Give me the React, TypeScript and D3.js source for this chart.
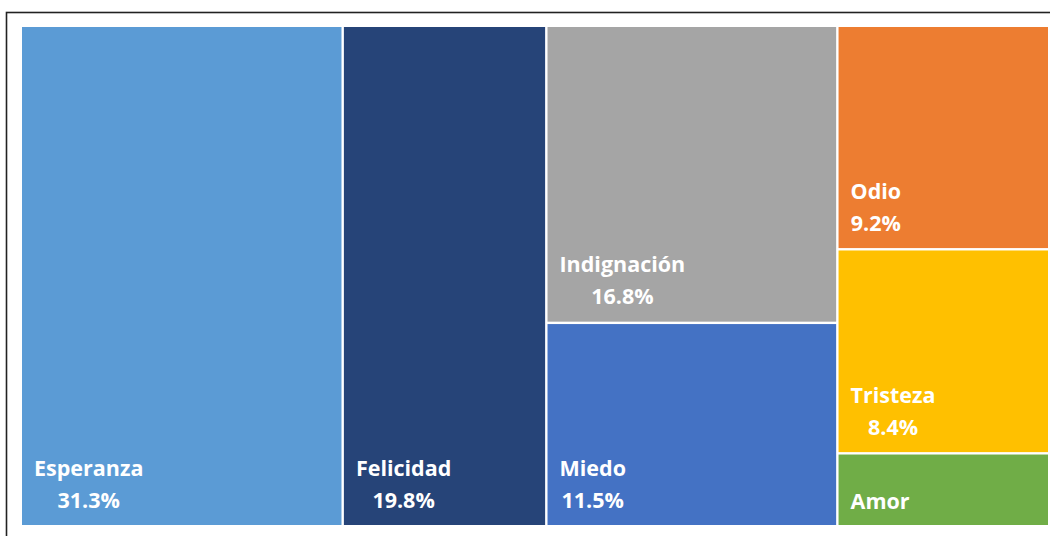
import React from "react";
import * as d3 from "d3";

const columns = ["c1", "c2", "c3", "c4"];
const names = ["Esperanza", "Felicidad", "Indignación", "Miedo", "Odio", "Tristeza", "Amor"];
const values = [31.3, 19.8, 16.8, 11.5, 9.2, 8.4, 3.0];
const groupOf = ["c1", "c2", "c3", "c3", "c4", "c4", "c4"];
const colors = ["#5B9BD5", "#264478", "#A5A5A5", "#4472C4", "#ED7D31", "#FFC000", "#70AD47"];
const showPct = [true, true, true, true, true, true, false];

const W = 1050;
const H = 536;
const X0 = 22;
const Y0 = 27;

export default function App() {
  const data = {
    name: "root",
    children: columns.map((c) => ({
      name: c,
      children: names
        .map((n, i) => ({ name: n, value: values[i], idx: i }))
        .filter((d) => groupOf[d.idx] === c),
    })),
  };
  const root = d3.hierarchy<any>(data).sum((d: any) => d.value || 0);
  d3.treemap<any>()
    .tile(d3.treemapSliceDice)
    .size([1048 - X0, 525 - Y0])
    .paddingInner(2.4)(root);
  const leaves = root.leaves() as any[];
  const font = "'Open Sans', Lato, sans-serif";
  return (
    <svg
      width={W}
      height={H}
      style={{ position: "absolute", left: 0, top: 0, background: "#fff" }}
    >
      <rect x={6.5} y={12.5} width={1200} height={700} fill="#fff" stroke="#222" strokeWidth={1.6} />
      <g transform={`translate(${X0},${Y0})`}>
        {leaves.map((l) => {
          const i = l.data.idx;
          const tx = l.x0 + 12;
          const bottom = l.y1;
          const nameY = showPct[i] ? bottom - 58 : bottom - 25;
          const pctY = bottom - 26;
          return (
            <g key={names[i]}>
              <rect x={l.x0} y={l.y0} width={l.x1 - l.x0} height={l.y1 - l.y0} fill={colors[i]} />
              <Label
                x={tx}
                nameY={nameY}
                pctY={pctY}
                name={names[i]}
                pct={showPct[i] ? values[i].toFixed(1) + "%" : null}
                font={font}
              />
            </g>
          );
        })}
      </g>
    </svg>
  );
}

function Label({ x, nameY, pctY, name, pct, font }: any) {
  const ref = React.useRef<SVGTextElement>(null);
  const [w, setW] = React.useState(0);
  React.useLayoutEffect(() => {
    if (ref.current) setW(ref.current.getComputedTextLength());
  }, []);
  return (
    <g fill="#fff" fontFamily={font} fontWeight={700} fontSize={21.5}>
      <text ref={ref} x={x} y={nameY} dominantBaseline="central">
        {name}
      </text>
      {pct && (
        <text x={x + w / 2} y={pctY} textAnchor="middle" dominantBaseline="central">
          {pct}
        </text>
      )}
    </g>
  );
}
